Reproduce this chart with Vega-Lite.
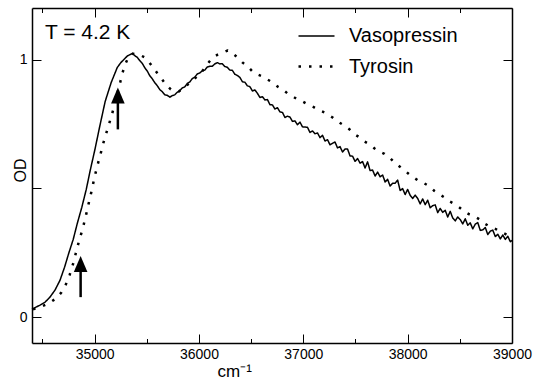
{
  "$schema": "https://vega.github.io/schema/vega-lite/v6.json",
  "width": 480,
  "height": 335,
  "autosize": {"type": "none"},
  "padding": {"left": 32, "top": 8, "right": 21, "bottom": 36},
  "background": "white",
  "config": {
    "view": {"stroke": null},
    "font": "Liberation Sans",
    "axis": {"grid": false, "domainColor": "black", "domainWidth": 1.5, "tickColor": "black", "tickWidth": 1, "labelFont": "Liberation Sans", "labelFontSize": 14, "labelColor": "black", "titleFont": "Liberation Sans", "titleFontWeight": "normal", "titleColor": "black", "titleFontSize": 16}
  },
  "datasets": {
    "curves": [
      {"series": "Vasopressin", "wn": 34400, "od": 0.031},
      {"series": "Vasopressin", "wn": 34438, "od": 0.039},
      {"series": "Vasopressin", "wn": 34477, "od": 0.047},
      {"series": "Vasopressin", "wn": 34524, "od": 0.058},
      {"series": "Vasopressin", "wn": 34572, "od": 0.078},
      {"series": "Vasopressin", "wn": 34620, "od": 0.105},
      {"series": "Vasopressin", "wn": 34668, "od": 0.143},
      {"series": "Vasopressin", "wn": 34712, "od": 0.194},
      {"series": "Vasopressin", "wn": 34752, "od": 0.248},
      {"series": "Vasopressin", "wn": 34795, "od": 0.302},
      {"series": "Vasopressin", "wn": 34834, "od": 0.364},
      {"series": "Vasopressin", "wn": 34877, "od": 0.426},
      {"series": "Vasopressin", "wn": 34920, "od": 0.496},
      {"series": "Vasopressin", "wn": 34958, "od": 0.570},
      {"series": "Vasopressin", "wn": 35003, "od": 0.651},
      {"series": "Vasopressin", "wn": 35051, "od": 0.744},
      {"series": "Vasopressin", "wn": 35101, "od": 0.837},
      {"series": "Vasopressin", "wn": 35159, "od": 0.911},
      {"series": "Vasopressin", "wn": 35217, "od": 0.969},
      {"series": "Vasopressin", "wn": 35251, "od": 0.988},
      {"series": "Vasopressin", "wn": 35290, "od": 1.004},
      {"series": "Vasopressin", "wn": 35314, "od": 1.014},
      {"series": "Vasopressin", "wn": 35338, "od": 1.019},
      {"series": "Vasopressin", "wn": 35362, "od": 1.023},
      {"series": "Vasopressin", "wn": 35386, "od": 1.015},
      {"series": "Vasopressin", "wn": 35410, "od": 1.008},
      {"series": "Vasopressin", "wn": 35434, "od": 0.995},
      {"series": "Vasopressin", "wn": 35457, "od": 0.985},
      {"series": "Vasopressin", "wn": 35481, "od": 0.968},
      {"series": "Vasopressin", "wn": 35505, "od": 0.955},
      {"series": "Vasopressin", "wn": 35529, "od": 0.937},
      {"series": "Vasopressin", "wn": 35553, "od": 0.925},
      {"series": "Vasopressin", "wn": 35577, "od": 0.910},
      {"series": "Vasopressin", "wn": 35601, "od": 0.898},
      {"series": "Vasopressin", "wn": 35625, "od": 0.883},
      {"series": "Vasopressin", "wn": 35649, "od": 0.875},
      {"series": "Vasopressin", "wn": 35673, "od": 0.863},
      {"series": "Vasopressin", "wn": 35697, "od": 0.861},
      {"series": "Vasopressin", "wn": 35721, "od": 0.854},
      {"series": "Vasopressin", "wn": 35745, "od": 0.860},
      {"series": "Vasopressin", "wn": 35768, "od": 0.863},
      {"series": "Vasopressin", "wn": 35792, "od": 0.873},
      {"series": "Vasopressin", "wn": 35816, "od": 0.879},
      {"series": "Vasopressin", "wn": 35840, "od": 0.890},
      {"series": "Vasopressin", "wn": 35864, "od": 0.894},
      {"series": "Vasopressin", "wn": 35888, "od": 0.907},
      {"series": "Vasopressin", "wn": 35912, "od": 0.913},
      {"series": "Vasopressin", "wn": 35936, "od": 0.926},
      {"series": "Vasopressin", "wn": 35960, "od": 0.932},
      {"series": "Vasopressin", "wn": 35984, "od": 0.944},
      {"series": "Vasopressin", "wn": 36008, "od": 0.948},
      {"series": "Vasopressin", "wn": 36032, "od": 0.956},
      {"series": "Vasopressin", "wn": 36056, "od": 0.959},
      {"series": "Vasopressin", "wn": 36080, "od": 0.971},
      {"series": "Vasopressin", "wn": 36104, "od": 0.974},
      {"series": "Vasopressin", "wn": 36128, "od": 0.974},
      {"series": "Vasopressin", "wn": 36152, "od": 0.983},
      {"series": "Vasopressin", "wn": 36176, "od": 0.988},
      {"series": "Vasopressin", "wn": 36200, "od": 0.983},
      {"series": "Vasopressin", "wn": 36224, "od": 0.984},
      {"series": "Vasopressin", "wn": 36248, "od": 0.973},
      {"series": "Vasopressin", "wn": 36272, "od": 0.970},
      {"series": "Vasopressin", "wn": 36296, "od": 0.959},
      {"series": "Vasopressin", "wn": 36320, "od": 0.958},
      {"series": "Vasopressin", "wn": 36344, "od": 0.943},
      {"series": "Vasopressin", "wn": 36368, "od": 0.938},
      {"series": "Vasopressin", "wn": 36392, "od": 0.931},
      {"series": "Vasopressin", "wn": 36416, "od": 0.914},
      {"series": "Vasopressin", "wn": 36440, "od": 0.912},
      {"series": "Vasopressin", "wn": 36464, "od": 0.898},
      {"series": "Vasopressin", "wn": 36488, "od": 0.895},
      {"series": "Vasopressin", "wn": 36512, "od": 0.878},
      {"series": "Vasopressin", "wn": 36536, "od": 0.882},
      {"series": "Vasopressin", "wn": 36560, "od": 0.869},
      {"series": "Vasopressin", "wn": 36584, "od": 0.853},
      {"series": "Vasopressin", "wn": 36608, "od": 0.856},
      {"series": "Vasopressin", "wn": 36632, "od": 0.843},
      {"series": "Vasopressin", "wn": 36656, "od": 0.845},
      {"series": "Vasopressin", "wn": 36680, "od": 0.825},
      {"series": "Vasopressin", "wn": 36704, "od": 0.824},
      {"series": "Vasopressin", "wn": 36728, "od": 0.808},
      {"series": "Vasopressin", "wn": 36752, "od": 0.813},
      {"series": "Vasopressin", "wn": 36776, "od": 0.797},
      {"series": "Vasopressin", "wn": 36800, "od": 0.795},
      {"series": "Vasopressin", "wn": 36824, "od": 0.775},
      {"series": "Vasopressin", "wn": 36848, "od": 0.780},
      {"series": "Vasopressin", "wn": 36872, "od": 0.777},
      {"series": "Vasopressin", "wn": 36896, "od": 0.760},
      {"series": "Vasopressin", "wn": 36920, "od": 0.762},
      {"series": "Vasopressin", "wn": 36944, "od": 0.747},
      {"series": "Vasopressin", "wn": 36968, "od": 0.757},
      {"series": "Vasopressin", "wn": 36992, "od": 0.739},
      {"series": "Vasopressin", "wn": 37016, "od": 0.738},
      {"series": "Vasopressin", "wn": 37040, "od": 0.737},
      {"series": "Vasopressin", "wn": 37064, "od": 0.717},
      {"series": "Vasopressin", "wn": 37088, "od": 0.723},
      {"series": "Vasopressin", "wn": 37112, "od": 0.712},
      {"series": "Vasopressin", "wn": 37136, "od": 0.715},
      {"series": "Vasopressin", "wn": 37160, "od": 0.697},
      {"series": "Vasopressin", "wn": 37184, "od": 0.706},
      {"series": "Vasopressin", "wn": 37208, "od": 0.684},
      {"series": "Vasopressin", "wn": 37232, "od": 0.689},
      {"series": "Vasopressin", "wn": 37256, "od": 0.669},
      {"series": "Vasopressin", "wn": 37280, "od": 0.675},
      {"series": "Vasopressin", "wn": 37304, "od": 0.680},
      {"series": "Vasopressin", "wn": 37328, "od": 0.657},
      {"series": "Vasopressin", "wn": 37352, "od": 0.662},
      {"series": "Vasopressin", "wn": 37376, "od": 0.641},
      {"series": "Vasopressin", "wn": 37400, "od": 0.653},
      {"series": "Vasopressin", "wn": 37424, "od": 0.653},
      {"series": "Vasopressin", "wn": 37448, "od": 0.626},
      {"series": "Vasopressin", "wn": 37472, "od": 0.625},
      {"series": "Vasopressin", "wn": 37496, "od": 0.605},
      {"series": "Vasopressin", "wn": 37520, "od": 0.616},
      {"series": "Vasopressin", "wn": 37544, "od": 0.598},
      {"series": "Vasopressin", "wn": 37568, "od": 0.604},
      {"series": "Vasopressin", "wn": 37592, "od": 0.579},
      {"series": "Vasopressin", "wn": 37616, "od": 0.603},
      {"series": "Vasopressin", "wn": 37640, "od": 0.569},
      {"series": "Vasopressin", "wn": 37664, "od": 0.571},
      {"series": "Vasopressin", "wn": 37688, "od": 0.548},
      {"series": "Vasopressin", "wn": 37712, "od": 0.563},
      {"series": "Vasopressin", "wn": 37736, "od": 0.545},
      {"series": "Vasopressin", "wn": 37760, "od": 0.552},
      {"series": "Vasopressin", "wn": 37784, "od": 0.525},
      {"series": "Vasopressin", "wn": 37808, "od": 0.535},
      {"series": "Vasopressin", "wn": 37832, "od": 0.509},
      {"series": "Vasopressin", "wn": 37856, "od": 0.520},
      {"series": "Vasopressin", "wn": 37880, "od": 0.520},
      {"series": "Vasopressin", "wn": 37904, "od": 0.532},
      {"series": "Vasopressin", "wn": 37928, "od": 0.492},
      {"series": "Vasopressin", "wn": 37952, "od": 0.499},
      {"series": "Vasopressin", "wn": 37976, "od": 0.476},
      {"series": "Vasopressin", "wn": 38000, "od": 0.496},
      {"series": "Vasopressin", "wn": 38024, "od": 0.473},
      {"series": "Vasopressin", "wn": 38048, "od": 0.461},
      {"series": "Vasopressin", "wn": 38072, "od": 0.474},
      {"series": "Vasopressin", "wn": 38096, "od": 0.461},
      {"series": "Vasopressin", "wn": 38120, "od": 0.440},
      {"series": "Vasopressin", "wn": 38144, "od": 0.459},
      {"series": "Vasopressin", "wn": 38168, "od": 0.437},
      {"series": "Vasopressin", "wn": 38192, "od": 0.454},
      {"series": "Vasopressin", "wn": 38216, "od": 0.425},
      {"series": "Vasopressin", "wn": 38240, "od": 0.433},
      {"series": "Vasopressin", "wn": 38264, "od": 0.436},
      {"series": "Vasopressin", "wn": 38288, "od": 0.406},
      {"series": "Vasopressin", "wn": 38312, "od": 0.422},
      {"series": "Vasopressin", "wn": 38336, "od": 0.407},
      {"series": "Vasopressin", "wn": 38360, "od": 0.415},
      {"series": "Vasopressin", "wn": 38384, "od": 0.389},
      {"series": "Vasopressin", "wn": 38408, "od": 0.411},
      {"series": "Vasopressin", "wn": 38432, "od": 0.385},
      {"series": "Vasopressin", "wn": 38456, "od": 0.374},
      {"series": "Vasopressin", "wn": 38480, "od": 0.389},
      {"series": "Vasopressin", "wn": 38504, "od": 0.379},
      {"series": "Vasopressin", "wn": 38528, "od": 0.362},
      {"series": "Vasopressin", "wn": 38552, "od": 0.382},
      {"series": "Vasopressin", "wn": 38576, "od": 0.357},
      {"series": "Vasopressin", "wn": 38600, "od": 0.366},
      {"series": "Vasopressin", "wn": 38624, "od": 0.343},
      {"series": "Vasopressin", "wn": 38648, "od": 0.361},
      {"series": "Vasopressin", "wn": 38672, "od": 0.367},
      {"series": "Vasopressin", "wn": 38696, "od": 0.337},
      {"series": "Vasopressin", "wn": 38720, "od": 0.339},
      {"series": "Vasopressin", "wn": 38744, "od": 0.348},
      {"series": "Vasopressin", "wn": 38768, "od": 0.321},
      {"series": "Vasopressin", "wn": 38792, "od": 0.334},
      {"series": "Vasopressin", "wn": 38816, "od": 0.338},
      {"series": "Vasopressin", "wn": 38840, "od": 0.313},
      {"series": "Vasopressin", "wn": 38864, "od": 0.322},
      {"series": "Vasopressin", "wn": 38888, "od": 0.304},
      {"series": "Vasopressin", "wn": 38912, "od": 0.319},
      {"series": "Vasopressin", "wn": 38936, "od": 0.302},
      {"series": "Vasopressin", "wn": 38960, "od": 0.314},
      {"series": "Vasopressin", "wn": 38984, "od": 0.293},
      {"series": "Vasopressin", "wn": 39000, "od": 0.298},
      {"series": "Tyrosin", "wn": 34410, "od": 0.031},
      {"series": "Tyrosin", "wn": 34477, "od": 0.039},
      {"series": "Tyrosin", "wn": 34560, "od": 0.054},
      {"series": "Tyrosin", "wn": 34635, "od": 0.074},
      {"series": "Tyrosin", "wn": 34683, "od": 0.097},
      {"series": "Tyrosin", "wn": 34721, "od": 0.124},
      {"series": "Tyrosin", "wn": 34760, "od": 0.163},
      {"series": "Tyrosin", "wn": 34798, "od": 0.213},
      {"series": "Tyrosin", "wn": 34827, "od": 0.260},
      {"series": "Tyrosin", "wn": 34855, "od": 0.302},
      {"series": "Tyrosin", "wn": 34884, "od": 0.341},
      {"series": "Tyrosin", "wn": 34913, "od": 0.388},
      {"series": "Tyrosin", "wn": 34941, "od": 0.438},
      {"series": "Tyrosin", "wn": 34970, "od": 0.488},
      {"series": "Tyrosin", "wn": 34999, "od": 0.543},
      {"series": "Tyrosin", "wn": 35027, "od": 0.589},
      {"series": "Tyrosin", "wn": 35056, "od": 0.632},
      {"series": "Tyrosin", "wn": 35085, "od": 0.678},
      {"series": "Tyrosin", "wn": 35114, "od": 0.717},
      {"series": "Tyrosin", "wn": 35137, "od": 0.748},
      {"series": "Tyrosin", "wn": 35166, "od": 0.787},
      {"series": "Tyrosin", "wn": 35195, "od": 0.829},
      {"series": "Tyrosin", "wn": 35220, "od": 0.872},
      {"series": "Tyrosin", "wn": 35245, "od": 0.911},
      {"series": "Tyrosin", "wn": 35271, "od": 0.953},
      {"series": "Tyrosin", "wn": 35300, "od": 0.988},
      {"series": "Tyrosin", "wn": 35328, "od": 1.012},
      {"series": "Tyrosin", "wn": 35367, "od": 1.023},
      {"series": "Tyrosin", "wn": 35405, "od": 1.019},
      {"series": "Tyrosin", "wn": 35443, "od": 1.016},
      {"series": "Tyrosin", "wn": 35481, "od": 1.008},
      {"series": "Tyrosin", "wn": 35510, "od": 0.996},
      {"series": "Tyrosin", "wn": 35539, "od": 0.981},
      {"series": "Tyrosin", "wn": 35577, "od": 0.961},
      {"series": "Tyrosin", "wn": 35615, "od": 0.938},
      {"series": "Tyrosin", "wn": 35654, "od": 0.919},
      {"series": "Tyrosin", "wn": 35692, "od": 0.899},
      {"series": "Tyrosin", "wn": 35730, "od": 0.884},
      {"series": "Tyrosin", "wn": 35768, "od": 0.876},
      {"series": "Tyrosin", "wn": 35807, "od": 0.876},
      {"series": "Tyrosin", "wn": 35845, "od": 0.888},
      {"series": "Tyrosin", "wn": 35893, "od": 0.903},
      {"series": "Tyrosin", "wn": 35941, "od": 0.919},
      {"series": "Tyrosin", "wn": 35989, "od": 0.938},
      {"series": "Tyrosin", "wn": 36036, "od": 0.957},
      {"series": "Tyrosin", "wn": 36084, "od": 0.984},
      {"series": "Tyrosin", "wn": 36132, "od": 1.008},
      {"series": "Tyrosin", "wn": 36180, "od": 1.019},
      {"series": "Tyrosin", "wn": 36228, "od": 1.027},
      {"series": "Tyrosin", "wn": 36276, "od": 1.035},
      {"series": "Tyrosin", "wn": 36324, "od": 1.023},
      {"series": "Tyrosin", "wn": 36371, "od": 1.008},
      {"series": "Tyrosin", "wn": 36419, "od": 0.988},
      {"series": "Tyrosin", "wn": 36467, "od": 0.973},
      {"series": "Tyrosin", "wn": 36515, "od": 0.953},
      {"series": "Tyrosin", "wn": 36563, "od": 0.942},
      {"series": "Tyrosin", "wn": 36611, "od": 0.934},
      {"series": "Tyrosin", "wn": 36659, "od": 0.922},
      {"series": "Tyrosin", "wn": 36706, "od": 0.911},
      {"series": "Tyrosin", "wn": 36754, "od": 0.895},
      {"series": "Tyrosin", "wn": 36802, "od": 0.884},
      {"series": "Tyrosin", "wn": 36850, "od": 0.868},
      {"series": "Tyrosin", "wn": 36898, "od": 0.857},
      {"series": "Tyrosin", "wn": 36946, "od": 0.845},
      {"series": "Tyrosin", "wn": 36993, "od": 0.837},
      {"series": "Tyrosin", "wn": 37041, "od": 0.826},
      {"series": "Tyrosin", "wn": 37089, "od": 0.818},
      {"series": "Tyrosin", "wn": 37137, "od": 0.806},
      {"series": "Tyrosin", "wn": 37185, "od": 0.798},
      {"series": "Tyrosin", "wn": 37233, "od": 0.787},
      {"series": "Tyrosin", "wn": 37281, "od": 0.775},
      {"series": "Tyrosin", "wn": 37328, "od": 0.760},
      {"series": "Tyrosin", "wn": 37376, "od": 0.748},
      {"series": "Tyrosin", "wn": 37443, "od": 0.729},
      {"series": "Tyrosin", "wn": 37491, "od": 0.710},
      {"series": "Tyrosin", "wn": 37539, "od": 0.698},
      {"series": "Tyrosin", "wn": 37587, "od": 0.682},
      {"series": "Tyrosin", "wn": 37635, "od": 0.671},
      {"series": "Tyrosin", "wn": 37683, "od": 0.655},
      {"series": "Tyrosin", "wn": 37730, "od": 0.643},
      {"series": "Tyrosin", "wn": 37778, "od": 0.634},
      {"series": "Tyrosin", "wn": 37826, "od": 0.620},
      {"series": "Tyrosin", "wn": 37874, "od": 0.600},
      {"series": "Tyrosin", "wn": 37922, "od": 0.585},
      {"series": "Tyrosin", "wn": 37970, "od": 0.570},
      {"series": "Tyrosin", "wn": 38017, "od": 0.554},
      {"series": "Tyrosin", "wn": 38065, "od": 0.540},
      {"series": "Tyrosin", "wn": 38113, "od": 0.527},
      {"series": "Tyrosin", "wn": 38161, "od": 0.519},
      {"series": "Tyrosin", "wn": 38209, "od": 0.508},
      {"series": "Tyrosin", "wn": 38257, "od": 0.490},
      {"series": "Tyrosin", "wn": 38305, "od": 0.477},
      {"series": "Tyrosin", "wn": 38352, "od": 0.465},
      {"series": "Tyrosin", "wn": 38400, "od": 0.450},
      {"series": "Tyrosin", "wn": 38448, "od": 0.440},
      {"series": "Tyrosin", "wn": 38496, "od": 0.426},
      {"series": "Tyrosin", "wn": 38544, "od": 0.410},
      {"series": "Tyrosin", "wn": 38592, "od": 0.399},
      {"series": "Tyrosin", "wn": 38640, "od": 0.391},
      {"series": "Tyrosin", "wn": 38688, "od": 0.380},
      {"series": "Tyrosin", "wn": 38735, "od": 0.364},
      {"series": "Tyrosin", "wn": 38783, "od": 0.353},
      {"series": "Tyrosin", "wn": 38845, "od": 0.342},
      {"series": "Tyrosin", "wn": 38908, "od": 0.329},
      {"series": "Tyrosin", "wn": 39000, "od": 0.310}
    ],
    "arrows": [
      {"wn": 34866, "y0": 0.078, "y1": 0.207},
      {"wn": 35223, "y0": 0.729, "y1": 0.860}
    ],
    "note": [
      {"wn": 34524, "od": 1.078, "label": "T = 4.2 K"}
    ]
  },
  "resolve": {"axis": {"x": "independent", "y": "independent"}},
  "layer": [
    {
      "data": {"name": "curves"},
      "mark": {"type": "line", "color": "black", "strokeCap": "butt", "strokeJoin": "round"},
      "encoding": {
        "x": {"field": "wn", "type": "quantitative", "scale": {"domain": [34400, 39000], "nice": false, "zero": false},
          "axis": {"orient": "bottom", "values": [35000, 36000, 37000, 38000, 39000], "format": "d", "tickSize": -9, "labelPadding": 13, "labelFlush": false, "title": "cm⁻¹", "titleFontSize": 17, "titleX": 185, "titleY": 33, "titleAlign": "left", "titleBaseline": "alphabetic", "titleAnchor": null}},
        "y": {"field": "od", "type": "quantitative", "scale": {"domain": [-0.1, 1.2], "nice": false, "zero": false},
          "axis": {"orient": "left", "values": [0, 0.5, 1], "labelExpr": "datum.value == 0.5 ? '' : format(datum.value, 'd')", "tickSize": -9, "labelPadding": 14, "title": "OD", "titleFontSize": 16, "titleAngle": -90, "titleX": -7, "titleY": 162, "titleAlign": "center", "titleBaseline": "alphabetic"}},
        "strokeDash": {"field": "series", "type": "nominal",
          "scale": {"domain": ["Vasopressin", "Tyrosin"], "range": [[1, 0], [2.5, 8]]},
          "legend": {"title": null, "orient": "none", "legendX": 265, "legendY": 9, "symbolType": "stroke", "symbolSize": 1296, "symbolStrokeColor": "black", "symbolFillColor": "transparent", "labelFont": "Liberation Sans", "labelFontSize": 20, "labelColor": "black", "labelOffset": 13, "rowPadding": 1, "padding": 0, "labelLimit": 300,
            "encode": {"symbols": {"update": {"strokeWidth": {"signal": "datum.value === 'Tyrosin' ? 2.5 : 1.8"}}}}}},
        "strokeWidth": {"field": "series", "type": "nominal", "scale": {"domain": ["Vasopressin", "Tyrosin"], "range": [1.5, 2.5]}, "legend": null}
      }
    },
    {
      "data": {"name": "arrows"},
      "mark": {"type": "rule", "color": "black", "strokeWidth": 2.5},
      "encoding": {
        "x": {"field": "wn", "type": "quantitative", "scale": {"domain": [34400, 39000], "nice": false, "zero": false},
          "axis": {"orient": "top", "values": [35000, 36000, 37000, 38000, 39000], "labels": false, "tickSize": -9, "title": null}},
        "y": {"field": "y0", "type": "quantitative", "scale": {"domain": [-0.1, 1.2], "nice": false, "zero": false},
          "axis": {"orient": "right", "values": [0, 0.5, 1], "labels": false, "tickSize": -9, "title": null}},
        "y2": {"field": "y1"}
      }
    },
    {
      "data": {"name": "arrows"},
      "mark": {"type": "point", "shape": "M0,-1L-0.85,1L0.85,1Z", "filled": true, "color": "black", "size": 256, "opacity": 1},
      "encoding": {
        "x": {"field": "wn", "type": "quantitative", "scale": {"domain": [34400, 39000], "nice": false, "zero": false},
          "axis": {"orient": "bottom", "values": [34500, 35500, 36500, 37500, 38500], "labels": false, "domain": false, "tickSize": -4.5, "title": null}},
        "y": {"field": "y1", "type": "quantitative", "scale": {"domain": [-0.1, 1.2], "nice": false, "zero": false}, "axis": null}
      }
    },
    {
      "data": {"name": "note"},
      "mark": {"type": "text", "align": "left", "baseline": "alphabetic", "font": "Liberation Sans", "fontSize": 21, "color": "black"},
      "encoding": {
        "x": {"field": "wn", "type": "quantitative", "scale": {"domain": [34400, 39000], "nice": false, "zero": false},
          "axis": {"orient": "top", "values": [34500, 35500, 36500, 37500, 38500], "labels": false, "domain": false, "tickSize": -4.5, "title": null}},
        "y": {"field": "od", "type": "quantitative", "scale": {"domain": [-0.1, 1.2], "nice": false, "zero": false}, "axis": null},
        "text": {"field": "label"}
      }
    }
  ]
}
